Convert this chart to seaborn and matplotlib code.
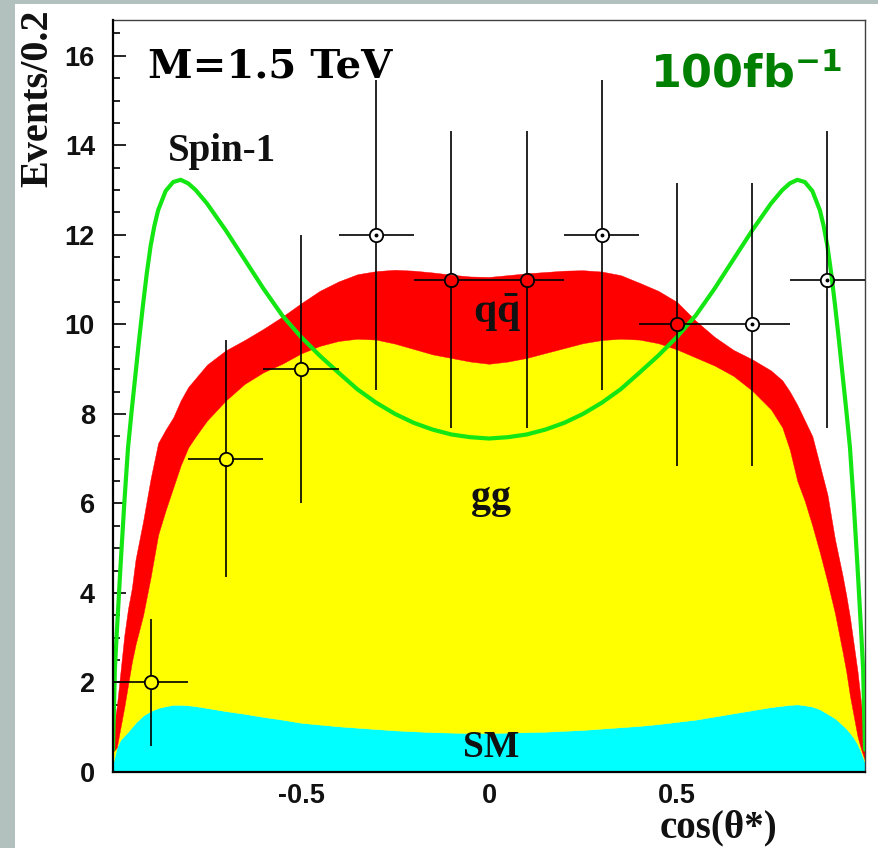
import numpy as np
import matplotlib
matplotlib.use("Agg")
import matplotlib.pyplot as plt
import seaborn as sns
from matplotlib.patches import Rectangle
from matplotlib.ticker import MultipleLocator, FixedLocator

# ---- stacked expectations (upper edge of each layer) vs cos(theta*) ----
cos_grid = [-1.0, -0.99, -0.98, -0.97, -0.96, -0.95, -0.94, -0.92, -0.9, -0.88,
            -0.86, -0.84, -0.82, -0.8, -0.78, -0.75, -0.7, -0.65, -0.6, -0.55,
            -0.5, -0.45, -0.4, -0.35, -0.3, -0.25, -0.2, -0.15, -0.1, -0.05,
            0.0, 0.05, 0.1, 0.15, 0.2, 0.25, 0.3, 0.35, 0.4, 0.45,
            0.5, 0.55, 0.6, 0.65, 0.7, 0.75, 0.78, 0.8, 0.82, 0.84,
            0.86, 0.88, 0.9, 0.92, 0.94, 0.95, 0.96, 0.97, 0.98, 0.99, 1.0]

sm_top = [0.2, 0.55, 0.72, 0.81, 0.9, 1.0, 1.1, 1.26, 1.36, 1.43,
          1.47, 1.5, 1.5, 1.49, 1.47, 1.43, 1.36, 1.3, 1.23, 1.17,
          1.1, 1.06, 1.02, 0.99, 0.96, 0.93, 0.91, 0.89, 0.88, 0.87,
          0.87, 0.88, 0.89, 0.9, 0.92, 0.94, 0.97, 1.0, 1.03, 1.07,
          1.12, 1.17, 1.24, 1.31, 1.38, 1.45, 1.48, 1.5, 1.51, 1.49,
          1.46, 1.4, 1.3, 1.2, 1.05, 0.97, 0.87, 0.76, 0.62, 0.43, 0.2]

gg_top = [0.45, 0.55, 1.0, 1.45, 1.95, 2.45, 2.85, 3.5, 4.35, 5.3,
          5.85, 6.35, 6.85, 7.25, 7.5, 7.85, 8.3, 8.67, 8.93, 9.12,
          9.35, 9.52, 9.63, 9.68, 9.66, 9.57, 9.45, 9.33, 9.25, 9.17,
          9.12, 9.17, 9.25, 9.36, 9.47, 9.58, 9.65, 9.68, 9.66, 9.58,
          9.44, 9.26, 9.08, 8.85, 8.52, 8.1, 7.7, 7.2, 6.5, 6.05,
          5.5, 4.9, 4.25, 3.55, 2.7, 2.25, 1.7, 1.25, 0.8, 0.5, 0.25]

qq_top = [0.9, 1.46, 2.25, 3.05, 3.65, 4.1, 4.75, 5.6, 6.55, 7.35,
          7.65, 7.92, 8.3, 8.6, 8.8, 9.1, 9.42, 9.65, 9.9, 10.17,
          10.47, 10.75, 10.96, 11.12, 11.19, 11.22, 11.2, 11.16, 11.11, 11.07,
          11.06, 11.1, 11.14, 11.17, 11.2, 11.21, 11.18, 11.1, 10.93, 10.75,
          10.5, 10.08, 9.72, 9.43, 9.22, 8.97, 8.75, 8.5, 8.2, 7.85,
          7.5, 6.85, 6.2, 5.2, 4.4, 3.95, 3.45, 2.85, 2.25, 1.5, 0.7]

# ---- Spin-1 expectation ----
spin1_x = [-1.0, -0.995, -0.99, -0.98, -0.97, -0.96, -0.95, -0.94, -0.93, -0.92,
           -0.91, -0.9, -0.89, -0.88, -0.86, -0.84, -0.82, -0.8, -0.78, -0.75,
           -0.7, -0.65, -0.6, -0.55, -0.5, -0.45, -0.4, -0.35, -0.3, -0.25,
           -0.2, -0.15, -0.1, -0.05, 0.0, 0.05, 0.1, 0.15, 0.2, 0.25,
           0.3, 0.35, 0.4, 0.45, 0.5, 0.55, 0.6, 0.65, 0.7, 0.75,
           0.78, 0.8, 0.82, 0.84, 0.86, 0.88, 0.89, 0.9, 0.91, 0.92,
           0.93, 0.94, 0.95, 0.96, 0.97, 0.98, 0.99, 0.995, 1.0]
spin1_y = [0.5, 2.3, 3.1, 4.6, 6.0, 7.25, 8.1, 8.9, 9.7, 10.45,
           11.15, 11.75, 12.2, 12.55, 12.98, 13.18, 13.23, 13.15, 13.0, 12.7,
           12.1, 11.45, 10.8, 10.2, 9.72, 9.3, 8.92, 8.55, 8.25, 8.0,
           7.8, 7.65, 7.54, 7.48, 7.45, 7.48, 7.54, 7.65, 7.8, 8.0,
           8.25, 8.55, 8.92, 9.3, 9.72, 10.2, 10.8, 11.45, 12.1, 12.7,
           13.0, 13.15, 13.23, 13.18, 12.98, 12.55, 12.2, 11.75, 11.15, 10.45,
           9.7, 8.9, 8.1, 7.25, 6.0, 4.6, 3.1, 2.3, 0.5]

# ---- pseudo-data, 100 fb^-1 ----
data_x = [-0.9, -0.7, -0.5, -0.3, -0.1, 0.1, 0.3, 0.5, 0.7, 0.9]
data_y = [2, 7, 9, 12, 11, 11, 12, 10, 10, 11]
data_err = [1.41, 2.65, 3.0, 3.46, 3.32, 3.32, 3.46, 3.16, 3.16, 3.32]
bin_half = 0.1

W, H, DPI = 879, 848, 100
sns.set_theme(style="ticks")
plt.rcParams["font.family"] = ["Liberation Sans", "DejaVu Sans"]
plt.rcParams["mathtext.fontset"] = "custom"
plt.rcParams["mathtext.rm"] = "Liberation Serif:bold"
plt.rcParams["mathtext.bf"] = "Liberation Serif:bold"

fig = plt.figure(figsize=(W / DPI, H / DPI), dpi=DPI, facecolor="#b2c1be")
fig.add_artist(Rectangle((15 / W, 0), 1 - 15 / W, 1 - 4 / H, transform=fig.transFigure,
                         facecolor="white", edgecolor="none", zorder=-5))
ax = fig.add_axes([113 / W, 1 - 772 / H, (865 - 113) / W, (772 - 20) / H])
ax.set_facecolor("white")

# stacked fills
ax.fill_between(cos_grid, 0, sm_top, color="#00ffff", lw=0.3, zorder=1)
ax.fill_between(cos_grid, sm_top, gg_top, color="#ffff00", lw=0.3, zorder=1)
ax.fill_between(cos_grid, gg_top, qq_top, color="#ff0000", lw=0.3, zorder=1)

# spin-1 curve
sns.lineplot(x=spin1_x, y=spin1_y, ax=ax, color="#14e614", lw=3.0,
             sort=False, estimator=None, zorder=3)

ax.set_xlim(-1.0, 1.0)
ax.set_ylim(0, 16.8)

# data points: open circles with error bars stopping at the marker edge
ms = 9.6
r_px = ms * DPI / 72 / 2
pos = ax.get_position()
rx = r_px / (pos.width * W) * 2.0
ry = r_px / (pos.height * H) * 16.8
dx = np.array(data_x); dy = np.array(data_y); de = np.array(data_err)
lw_err = 1.2
ax.vlines(dx, dy - de, dy - ry, color="black", lw=lw_err, zorder=4)
ax.vlines(dx, dy + ry, dy + de, color="black", lw=lw_err, zorder=4)
ax.hlines(dy, dx - bin_half, dx - rx, color="black", lw=lw_err, zorder=4)
ax.hlines(dy, dx + rx, dx + bin_half, color="black", lw=lw_err, zorder=4)
ax.plot(dx, dy, ls="none", marker="o", ms=ms, mfc="none", mec="black", mew=1.3, zorder=5)
above = dy > np.interp(dx, cos_grid, qq_top)
ax.plot(dx[above], dy[above], ls="none", marker="o", ms=1.8, mfc="black", mec="black", zorder=5)

# axes styling
for s in ["left", "bottom"]:
    ax.spines[s].set_linewidth(1.6)
    ax.spines[s].set_color("black")
for s in ["top", "right"]:
    ax.spines[s].set_linewidth(1.0)
    ax.spines[s].set_color("#404040")
ax.spines["left"].set_zorder(6)

ax.yaxis.set_major_locator(MultipleLocator(2))
ax.yaxis.set_minor_locator(MultipleLocator(0.5))
ax.xaxis.set_major_locator(FixedLocator([-0.5, 0.0, 0.5]))
ax.xaxis.set_minor_locator(MultipleLocator(0.1))
ax.set_xticklabels(["-0.5", "0", "0.5"])
ax.tick_params(axis="both", which="both", direction="in", top=False, right=False,
               color="black", width=1.2)
ax.tick_params(axis="y", which="major", length=9.5, pad=13)
ax.tick_params(axis="y", which="minor", length=5)
ax.tick_params(axis="x", which="major", length=9.5, pad=8)
ax.tick_params(axis="x", which="minor", length=5)
for lab in ax.get_xticklabels() + ax.get_yticklabels():
    lab.set_fontsize(19.5)
    lab.set_fontweight("bold")
    lab.set_color("#111111")
ax.set_xlabel("")
ax.set_ylabel("")

serif = ["Liberation Serif", "DejaVu Serif"]
fig.text(38 / W, 1 - 9 / H, "Events/0.2", rotation=90, ha="center", va="top",
         fontsize=29, fontweight="bold", family=serif, color="#111111")
fig.text(777 / W, 1 - 828 / H, "cos(\u03b8*)", ha="right", va="center",
         fontsize=28, fontweight="bold", family=serif, color="#111111")

ax.text(-0.855, 13.66, "Spin-1", ha="left", va="baseline", fontsize=28,
        fontweight="bold", family=serif, color="#111111", zorder=6)
ax.text(0.02, 10.04, r"$\mathbf{q\bar{q}}$", ha="center", va="baseline",
        fontsize=30, color="#111111", zorder=6)
ax.text(0.005, 5.9, "gg", ha="center", va="baseline", fontsize=29,
        fontweight="bold", family=serif, color="#111111", zorder=6)
ax.text(0.005, 0.33, "SM", ha="center", va="baseline", fontsize=27,
        fontweight="bold", family=serif, color="#111111", zorder=6)

ax.text(-0.907, 15.51, "M=1.5 TeV", ha="left", va="baseline", fontsize=29,
        fontweight="bold", family=["DejaVu Serif"], color="black", zorder=6)
ax.text(0.428, 15.29, r"100fb$^{\mathregular{-1}}$", ha="left", va="baseline",
        fontsize=32, fontweight="bold", family=["DejaVu Sans"], color="#008000", zorder=6)

fig.savefig("out.png", dpi=DPI, facecolor=fig.get_facecolor())
